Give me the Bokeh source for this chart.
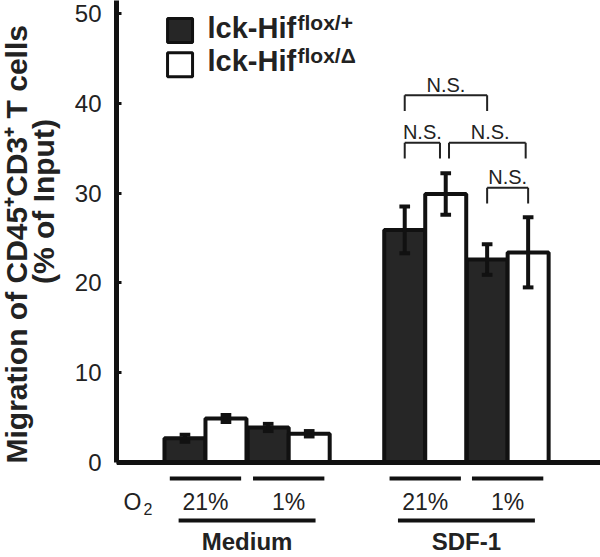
import math
from bokeh.plotting import figure
from bokeh.layouts import row
from bokeh.models import Range1d, FixedTicker, Span
from bokeh.core.properties import value
from bokeh.embed import file_html
from bokeh.resources import INLINE

# ---------------- data ----------------
conditions = ["Medium 21%", "Medium 1%", "SDF-1 21%", "SDF-1 1%"]
o2_labels = ["21%", "1%", "21%", "1%"]
group_labels = ["Medium", "SDF-1"]
genotypes = ["flox/+", "flox/\u0394"]

flox_plus_mean = [2.7, 3.9, 25.9, 22.6]
flox_plus_err = [0.4, 0.4, 2.6, 1.7]
flox_delta_mean = [4.9, 3.2, 29.9, 23.4]
flox_delta_err = [0.4, 0.3, 2.3, 3.9]

y_ticks = [0, 10, 20, 30, 40, 50]

# significance brackets (bar indices in SDF-1 block: 0=dark21,1=white21,2=dark1,3=white1)
ns_pairs = [(0, 2), (0, 1), (1, 3), (2, 3)]
ns_levels = [40.9, 35.6, 35.6, 30.6]
ns_text = ["N.S.", "N.S.", "N.S.", "N.S."]

# ---------------- layout ----------------
FONT = "Liberation Sans"
INK = "#111111"
TXT = "#222222"
pair_centers = [2.17, 4.20, 7.53, 9.54]
bar_w = 1.0
x_dark = [c - bar_w / 2 for c in pair_centers]
x_white = [c + bar_w / 2 for c in pair_centers]

yr = Range1d(-10.58, 51.45)

# left strip holding the two-line y-axis title
t = figure(width=62, height=557, output_backend="svg", toolbar_location=None,
           x_range=Range1d(0, 62), y_range=yr, x_axis_location=None,
           y_axis_location=None, min_border=0)
t.outline_line_color = None
t.grid.visible = False
t.text(x=[16], y=[-0.11], text=["Migration of CD45\u207aCD3\u207a T cells"],
       angle=math.pi / 2, text_font=value(FONT), text_font_size="30px",
       text_font_style="bold", text_align="left", text_baseline="middle",
       text_color=TXT)
t.text(x=[43], y=[29.06], text=["(% of Input)"], angle=math.pi / 2,
       text_font=value(FONT), text_font_size="30px", text_font_style="bold",
       text_align="center", text_baseline="middle", text_color=TXT)

p = figure(width=538, height=557, output_backend="svg", toolbar_location=None,
           x_range=Range1d(0, 11.805), y_range=yr,
           x_axis_location=None, min_border_left=54, min_border_right=0,
           min_border_top=0, min_border_bottom=0)
p.outline_line_color = None
p.grid.visible = False

ax = p.yaxis[0]
ax.ticker = FixedTicker(ticks=y_ticks)
ax.bounds = (0, 51.45)
ax.axis_line_width = 5
ax.axis_line_color = INK
ax.major_tick_in = 5
ax.major_tick_out = 0
ax.major_tick_line_width = 3
ax.major_tick_line_color = INK
ax.minor_tick_line_color = None
ax.major_label_text_font = FONT
ax.major_label_text_font_size = "24px"
ax.major_label_text_color = TXT
ax.major_label_standoff = 15

# x-axis baseline
p.add_layout(Span(location=0, dimension="width", line_color=INK, line_width=5))

# bars
p.vbar(x=x_dark, top=flox_plus_mean, bottom=0, width=bar_w,
       fill_color="#262626", line_color=INK, line_width=4)
p.vbar(x=x_white, top=flox_delta_mean, bottom=0, width=bar_w,
       fill_color="white", line_color=INK, line_width=4)

# error bars
cap = 0.13
for xs, m, e in [(x_dark, flox_plus_mean, flox_plus_err),
                 (x_white, flox_delta_mean, flox_delta_err)]:
    lo = [a - b for a, b in zip(m, e)]
    hi = [a + b for a, b in zip(m, e)]
    p.segment(x0=xs, y0=lo, x1=xs, y1=hi, line_color=INK, line_width=4)
    p.segment(x0=[x - cap for x in xs], y0=hi, x1=[x + cap for x in xs], y1=hi,
              line_color=INK, line_width=4)
    p.segment(x0=[x - cap for x in xs], y0=lo, x1=[x + cap for x in xs], y1=lo,
              line_color=INK, line_width=4)

# significance brackets
sdf_bars = [x_dark[2], x_white[2], x_dark[3], x_white[3]]
end_adj = {(0, 1): (0.0, -0.14), (1, 3): (0.08, -0.06), (0, 2): (0.0, 0.0), (2, 3): (0.0, 0.0)}
drop = 1.75
bx0, bx1, by, tx = [], [], [], []
for (a, b), lvl in zip(ns_pairs, ns_levels):
    da, db = end_adj[(a, b)]
    x0 = sdf_bars[a] + da
    x1 = sdf_bars[b] + db
    bx0.append(x0); bx1.append(x1); by.append(lvl)
    tx.append((x0 + x1) / 2 + (0.07 if (a, b) == (1, 3) else 0.0))
p.segment(x0=bx0, y0=by, x1=bx1, y1=by, line_color=TXT, line_width=2)
p.segment(x0=bx0, y0=by, x1=bx0, y1=[v - drop for v in by], line_color=TXT, line_width=2)
p.segment(x0=bx1, y0=by, x1=bx1, y1=[v - drop for v in by], line_color=TXT, line_width=2)
p.text(x=tx, y=[v + 1.15 for v in by], text=ns_text, text_font=value(FONT),
       text_font_size="20px", text_align="center", text_baseline="middle",
       text_color=TXT)

# below-axis annotations
half = 0.87
p.segment(x0=[c - half for c in pair_centers], y0=[-1.78] * 4,
          x1=[c + half for c in pair_centers], y1=[-1.78] * 4,
          line_color=INK, line_width=4)
p.text(x=pair_centers, y=[-4.45] * 4, text=o2_labels, text_font=value(FONT),
       text_font_size="23px", text_align="center", text_baseline="middle",
       text_color=TXT)
grp_c = [(pair_centers[0] + pair_centers[1]) / 2, (pair_centers[2] + pair_centers[3]) / 2]
ghalf = 1.67
p.segment(x0=[c - ghalf for c in grp_c], y0=[-6.46] * 2, x1=[c + ghalf for c in grp_c],
          y1=[-6.46] * 2, line_color=INK, line_width=4)
p.text(x=grp_c, y=[-8.85] * 2, text=group_labels, text_font=value(FONT),
       text_font_size="24px", text_font_style="bold", text_align="center",
       text_baseline="middle", text_color=TXT)
p.text(x=[0.17], y=[-4.45], text=["O"], text_font=value(FONT), text_font_size="23px",
       text_align="left", text_baseline="middle", text_color=TXT)
p.text(x=[0.17], y=[-4.45], text=["2"], text_font=value(FONT), text_font_size="16px",
       text_align="left", text_baseline="middle", x_offset=20, y_offset=7,
       text_color=TXT)

# legend
leg_x = 1.55
leg_y = [48.1, 44.3]
p.rect(x=[leg_x] * 2, y=leg_y, width=25, height=24, width_units="screen",
       height_units="screen", fill_color=["#262626", "white"], line_color=INK,
       line_width=3)
leg_mid = [48.4, 44.75]
p.text(x=[2.22] * 2, y=leg_mid, text=["lck-Hif", "lck-Hif"], text_font=value(FONT),
       text_font_size="29px", text_font_style="bold", text_align="left",
       text_baseline="middle", text_color=TXT)
p.text(x=[2.22] * 2, y=leg_mid, text=genotypes, text_font=value(FONT),
       text_font_size="21px", text_font_style="bold", text_align="left",
       text_baseline="middle", x_offset=90, y_offset=-5.5, text_color=TXT)

layout = row(t, p)
open("out.html", "w").write(file_html(layout, INLINE))
